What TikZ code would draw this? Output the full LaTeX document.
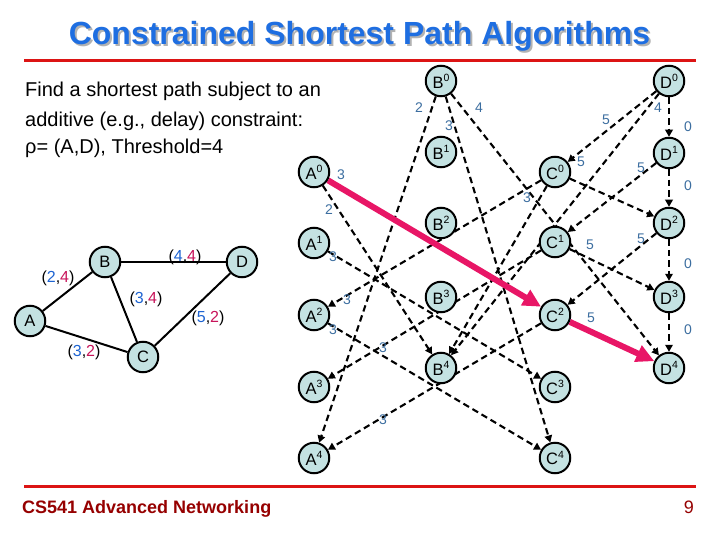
\documentclass[tikz,border=0pt]{standalone}
\usepackage{fontspec}
\setmainfont{Liberation Sans}
\usetikzlibrary{arrows.meta}
\definecolor{nodefill}{RGB}{196,226,226}
\definecolor{lblblue}{RGB}{60,110,160}
\definecolor{pathpink}{RGB}{232,22,102}
\definecolor{titleblue}{RGB}{30,110,225}
\definecolor{rulered}{RGB}{220,20,20}
\definecolor{footred}{RGB}{150,0,0}
\definecolor{numblue}{RGB}{30,100,210}
\definecolor{numred}{RGB}{200,20,90}
\pgfdeclarelayer{back}
\pgfdeclarelayer{edgelayer}
\pgfsetlayers{back,edgelayer,main}
\newcommand{\lvl}[2]{#1\raisebox{0.42em}{\fontsize{10.5}{10.5}\selectfont #2}}
\tikzset{
  vtx/.style={circle, draw=black, line width=2pt, fill=nodefill, minimum size=30.5pt, inner sep=0pt, font=\fontsize{16.5}{16.5}\selectfont},
  darr/.style={draw=black, line width=2.1pt, dash pattern=on 6.5pt off 4pt, -{Triangle[length=7pt,width=7.5pt]}},
  parr/.style={draw=pathpink, line width=6pt, -{Triangle[length=18pt,width=17pt]}},
  sedge/.style={draw=black, line width=2pt},
  elbl/.style={text=lblblue, font=\fontsize{14}{14}\selectfont, inner sep=0pt},
  plbl/.style={font=\fontsize{16}{16}\selectfont, inner sep=0pt},
  bodytext/.style={anchor=base west, inner sep=0pt, font=\fontsize{20}{20}\selectfont},
}
\newcommand{\bl}[1]{\textcolor{numblue}{#1}}
\newcommand{\rd}[1]{\textcolor{numred}{#1}}
\begin{document}
\begin{tikzpicture}[x=1pt,y=-1pt]
\begin{pgfonlayer}{back}
\fill[white] (0,0) rectangle (720,540);
\node[text=black!30, font=\bfseries\fontsize{32}{32}\selectfont] (titlesh) at (361.5,38.5) {Constrained Shortest Path Algorithms};
\end{pgfonlayer}
\useasboundingbox (0,0) rectangle (720,540);
% title
\node[text=titleblue, font=\bfseries\fontsize{32}{32}\selectfont] (title) at (359.5,36.5) {Constrained Shortest Path Algorithms};
\draw[rulered, line width=3pt] (24,61) -- (696,61);
\draw[rulered, line width=3pt] (24,486) -- (696,486);
% body
\node[bodytext] (t1) at (25,97) {Find a shortest path subject to an};
\node[bodytext] (t2) at (25,127) {additive (e.g., delay) constraint:};
\node[bodytext] (t3) at (25,154) {ρ= (A,D), Threshold=4};
% footer
\node[anchor=base west, inner sep=0pt, text=footred, font=\bfseries\fontsize{18}{18}\selectfont] (foot) at (22,513) {CS541 Advanced Networking};
\node[anchor=base east, inner sep=0pt, text=footred, font=\fontsize{18}{18}\selectfont] (pg) at (694,513) {9};
% small graph
\node[vtx] (sA) at (30,321) {A};
\node[vtx] (sB) at (105,262) {B};
\node[vtx] (sD) at (242,262) {D};
\node[vtx] (sC) at (143,357) {C};
\begin{pgfonlayer}{edgelayer}
\draw[sedge] (sA) -- (sB);
\draw[sedge] (sB) -- (sD);
\draw[sedge] (sB) -- (sC);
\draw[sedge] (sA) -- (sC);
\draw[sedge] (sC) -- (sD);
\end{pgfonlayer}
\node[plbl] (l24) at (58,278) {(\bl{2},\rd{4})};
\node[plbl] (l44) at (185,257) {(\bl{4},\rd{4})};
\node[plbl] (l34) at (146,299) {(\bl{3},\rd{4})};
\node[plbl] (l52) at (208,318) {(\bl{5},\rd{2})};
\node[plbl] (l32) at (84,352) {(\bl{3},\rd{2})};
% layered graph nodes
\node[vtx] (A0) at (314,172) {\lvl{A}{0}};
\node[vtx] (A1) at (314,243) {\lvl{A}{1}};
\node[vtx] (A2) at (314,315) {\lvl{A}{2}};
\node[vtx] (A3) at (314,387) {\lvl{A}{3}};
\node[vtx] (A4) at (314,458) {\lvl{A}{4}};
\node[vtx] (B0) at (441,81) {\lvl{B}{0}};
\node[vtx] (B1) at (441,152) {\lvl{B}{1}};
\node[vtx] (B2) at (441,223) {\lvl{B}{2}};
\node[vtx] (B3) at (441,297) {\lvl{B}{3}};
\node[vtx] (B4) at (441,368) {\lvl{B}{4}};
\node[vtx] (C0) at (555,172) {\lvl{C}{0}};
\node[vtx] (C1) at (555,242) {\lvl{C}{1}};
\node[vtx] (C2) at (555,315) {\lvl{C}{2}};
\node[vtx] (C3) at (555,387) {\lvl{C}{3}};
\node[vtx] (C4) at (555,458) {\lvl{C}{4}};
\node[vtx] (D0) at (669,81) {\lvl{D}{0}};
\node[vtx] (D1) at (669,153) {\lvl{D}{1}};
\node[vtx] (D2) at (669,223) {\lvl{D}{2}};
\node[vtx] (D3) at (669,297) {\lvl{D}{3}};
\node[vtx] (D4) at (669,368) {\lvl{D}{4}};
\begin{pgfonlayer}{edgelayer}
\draw[darr] (A0) -- (B4);
\draw[darr] (B0) -- (A4);
\draw[darr] (B0) -- (C4);
\draw[darr] (B0) -- (D4);
\draw[darr] (D0) -- (B4);
\draw[darr] (D0) -- (C0);
\draw[darr] (D0) -- (D1);
\draw[darr] (D1) -- (D2);
\draw[darr] (D2) -- (D3);
\draw[darr] (D3) -- (D4);
\draw[darr] (C0) -- (D2);
\draw[darr] (D1) -- (C1);
\draw[darr] (C0) -- (B4);
\draw[darr] (C0) -- (A2);
\draw[darr] (A1) -- (C3);
\draw[darr] (A2) -- (C4);
\draw[darr] (C1) -- (A3);
\draw[darr] (C2) -- (A4);
\draw[darr] (C1) -- (D3);
\draw[darr] (D2) -- (C2);
\draw[parr] (A0) -- (C2);
\draw[parr] (C2) -- (D4);
\end{pgfonlayer}
% edge labels
\node[elbl] (e1) at (341,175) {3};
\node[elbl] (e2) at (329,210) {2};
\node[elbl] (e3) at (419,108) {2};
\node[elbl] (e4) at (449,126) {3};
\node[elbl] (e5) at (479,108) {4};
\node[elbl] (e6) at (658,108) {4};
\node[elbl] (e7) at (606,120) {5};
\node[elbl] (e8) at (688,127) {0};
\node[elbl] (e9) at (688,186) {0};
\node[elbl] (e10) at (688,264) {0};
\node[elbl] (e11) at (688,330) {0};
\node[elbl] (e12) at (581,162) {5};
\node[elbl] (e13) at (641,168) {5};
\node[elbl] (e14) at (527,198) {3};
\node[elbl] (e15) at (347,300) {3};
\node[elbl] (e16) at (333,257) {3};
\node[elbl] (e17) at (333,330) {3};
\node[elbl] (e18) at (383,348) {3};
\node[elbl] (e19) at (383,420) {3};
\node[elbl] (e20) at (590,245) {5};
\node[elbl] (e21) at (641,239) {5};
\node[elbl] (e22) at (591,318) {5};
\end{tikzpicture}
\end{document}
